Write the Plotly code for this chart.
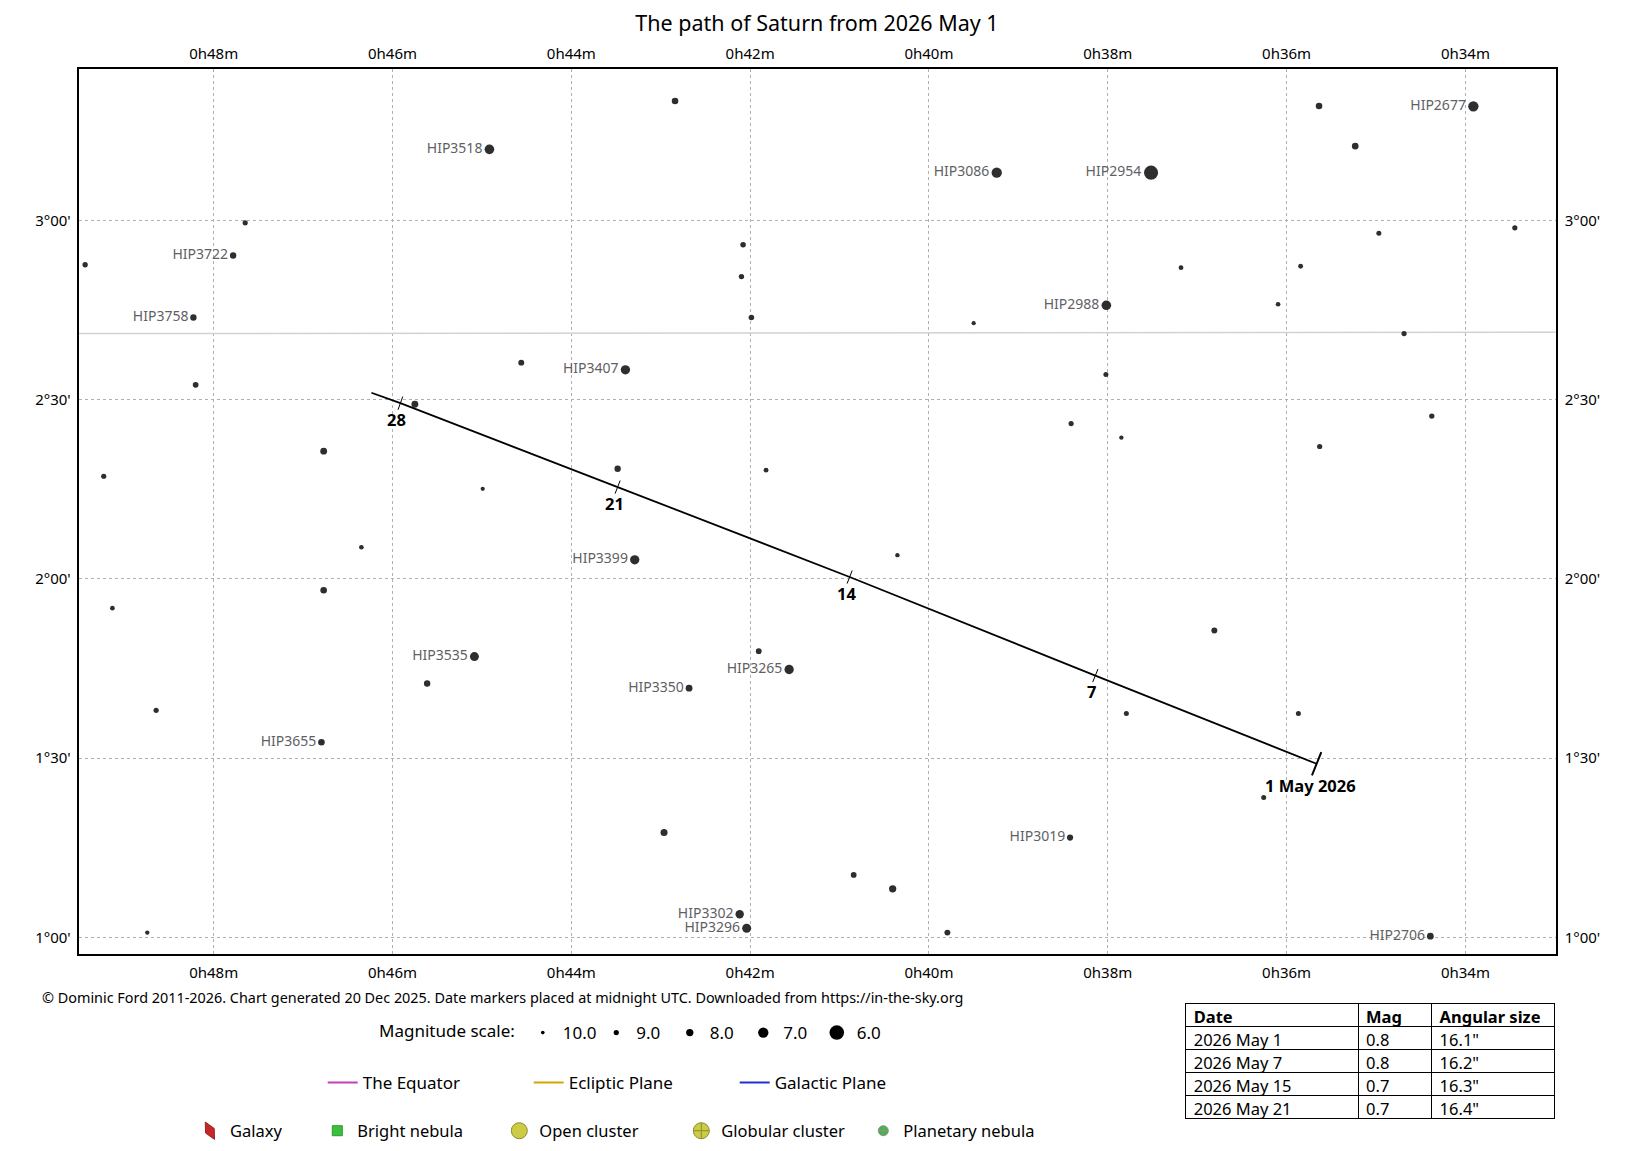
import numpy as np
import plotly.graph_objects as go

# field stars: RA in minutes of time after 0h, Dec in degrees, V magnitude
star_ra = [42.840, 44.916, 35.637, 33.911, 35.232, 39.242, 37.516, 47.648, 33.447, 34.968,
           47.783, 49.438, 42.079, 42.097, 37.181, 35.843, 38.016, 36.095, 48.227, 41.986,
           39.500, 34.686, 44.560, 43.395, 38.021, 48.202, 45.750, 34.376, 38.410, 37.848,
           35.630, 46.770, 43.482, 41.822, 49.230, 44.991, 46.348, 40.353, 43.291, 46.770,
           49.133, 36.808, 41.904, 45.084, 41.564, 45.613, 42.683, 48.644, 37.792, 35.868,
           46.795, 36.256, 42.963, 38.422, 40.842, 40.406, 42.117, 42.039, 48.743, 39.794,
           34.392]
star_dec = [3.333, 3.198, 3.319, 3.318, 3.207, 3.133, 3.133, 2.993, 2.979, 2.964,
            2.902, 2.876, 2.932, 2.843, 2.868, 2.872, 2.763, 2.766, 2.729, 2.729,
            2.713, 2.684, 2.603, 2.583, 2.570, 2.541, 2.487, 2.454, 2.433, 2.394,
            2.369, 2.356, 2.307, 2.303, 2.286, 2.251, 2.088, 2.066, 2.053, 1.968,
            1.918, 1.856, 1.798, 1.783, 1.747, 1.708, 1.695, 1.633, 1.624, 1.624,
            1.544, 1.390, 1.292, 1.278, 1.174, 1.135, 1.064, 1.025, 1.013, 1.013,
            1.003]
star_mag = [8.3, 7.2, 8.3, 7.0, 8.3, 7.0, 6.1, 9.0, 9.0, 9.1,
            8.4, 8.9, 8.8, 8.9, 9.2, 9.2, 7.2, 9.3, 8.4, 8.8,
            9.6, 9.0, 8.6, 7.3, 9.1, 8.7, 8.2, 8.9, 9.0, 9.5,
            9.0, 8.2, 8.4, 9.2, 9.0, 9.6, 9.3, 9.5, 7.3, 8.3,
            9.3, 8.6, 8.7, 7.4, 7.3, 8.4, 8.2, 9.0, 9.1, 9.1,
            8.3, 9.1, 8.1, 8.5, 8.7, 8.0, 7.6, 7.4, 9.5, 8.6,
            8.2]
star_name = ["", "HIP3518", "", "HIP2677", "", "HIP3086", "HIP2954", "", "", "",
             "HIP3722", "", "", "", "", "", "HIP2988", "", "HIP3758", "",
             "", "", "", "HIP3407", "", "", "", "", "", "",
             "", "", "", "", "", "", "", "", "HIP3399", "",
             "", "", "", "HIP3535", "HIP3265", "", "HIP3350", "", "", "",
             "HIP3655", "", "", "HIP3019", "", "", "HIP3302", "HIP3296", "", "",
             "HIP2706"]

# Saturn's path, May 2026
path_day = [1, 7, 14, 21, 28, 29]
path_ra = [35.664, 38.139, 40.887, 43.482, 45.912, 46.236]
path_dec = [1.484, 1.730, 2.005, 2.256, 2.490, 2.519]
path_label = ["1 May 2026", "7", "14", "21", "28", ""]

# constellation boundary (Pisces / Cetus)
boundary_ra = [49.51, 41.21, 32.99]
boundary_dec = [2.684, 2.6855, 2.688]

# ephemeris table
table_date = ["2026 May 1", "2026 May 7", "2026 May 15", "2026 May 21"]
table_mag = ["0.8", "0.8", "0.7", "0.7"]
table_size = ['16.1"', '16.2"', '16.3"', '16.4"']

mag_scale = [10.0, 9.0, 8.0, 7.0, 6.0]
plane_names = ["The Equator", "Ecliptic Plane", "Galactic Plane"]
plane_colors = ["#c040c0", "#d4a800", "#2030d0"]
object_names = ["Galaxy", "Bright nebula", "Open cluster", "Globular cluster", "Planetary nebula"]

ra_ticks = [48, 46, 44, 42, 40, 38, 36, 34]
ra_ticktext = ["0h%02dm" % m for m in ra_ticks]
dec_ticks = [1.0, 1.5, 2.0, 2.5, 3.0]
dec_ticktext = ["%d°%02d'" % (int(d), round((d - int(d)) * 60)) for d in dec_ticks]

x_range = [49.51, 32.99]
y_range = [0.9533, 3.4222]
W, H = 1633, 1151
PAGE = 8  # the html page body margin


def fx(px):
    return (px - PAGE) / W


def fy(py):
    return (H - (py - PAGE)) / H


x_dom = [fx(78.7), fx(1555.7)]
y_dom = [fy(954), fy(69)]
FONT = "Noto Sans"


def mag_size(m):
    return 14.6 * 10 ** (-0.15 * (np.asarray(m, dtype=float) - 6.0))


fig = go.Figure()

fig.add_trace(go.Scatter(x=boundary_ra, y=boundary_dec, mode="lines",
                         line=dict(color="#d2d2d2", width=1.5),
                         hoverinfo="skip", showlegend=False))

fig.add_trace(go.Scatter(x=star_ra, y=star_dec, mode="markers+text",
                         text=star_name, textposition="middle left",
                         textfont=dict(size=14, color="#5f5f66", family=FONT),
                         marker=dict(size=mag_size(star_mag), color="#2e2e2e", opacity=1,
                                     line=dict(width=0)),
                         showlegend=False))

# path drawn latest-first so each tick can be oriented against the previous point
rev_ra = path_ra[::-1]
rev_dec = path_dec[::-1]
rev_day = path_day[::-1]
tick_size = [0 if d == path_day[-1] else (18 if d == path_day[0] else 10) for d in rev_day]
tick_width = [0 if d == path_day[-1] else (2 if d == path_day[0] else 1) for d in rev_day]
fig.add_trace(go.Scatter(x=rev_ra, y=rev_dec, mode="lines+markers",
                         line=dict(color="black", width=1.8),
                         marker=dict(symbol="line-ns", size=tick_size, angleref="previous", angle=90,
                                     color="black", opacity=1,
                                     line=dict(color="black", width=tick_width)),
                         hoverinfo="skip", showlegend=False))

date_notes = []
for ra, dec, lab, day in zip(path_ra, path_dec, path_label, path_day):
    if not lab:
        continue
    first = day == path_day[0]
    date_notes.append(dict(x=ra, y=dec, xref="x", yref="y", text="<b>%s</b>" % lab,
                           showarrow=False, xanchor="center", yanchor="middle",
                           xshift=-6 if first else -3.4, yshift=-22 if first else -16,
                           font=dict(size=16.5, color="black", family=FONT)))

# invisible trace for the mirrored axes
fig.add_trace(go.Scatter(x=[None], y=[None], xaxis="x2", yaxis="y2",
                         showlegend=False, hoverinfo="skip"))

for m in mag_scale:
    fig.add_trace(go.Scatter(x=[None], y=[None], mode="markers", name="%.1f" % m,
                             marker=dict(size=float(mag_size(m)), color="black"),
                             legend="legend"))

for name, col in zip(plane_names, plane_colors):
    fig.add_trace(go.Scatter(x=[None], y=[None], mode="lines", name=name,
                             line=dict(color=col, width=2), legend="legend2"))

obj_style = [
    dict(symbol="diamond-tall", size=14, color="#c42828", angle=-28, line=dict(color="#a02020", width=1)),
    dict(symbol="square", size=10, color="#3cbf3c", line=dict(color="#2a9a2a", width=1)),
    dict(symbol="circle", size=16, color="#cccc44", line=dict(color="#8c8c30", width=1)),
    dict(symbol="circle-cross", size=16, color="#cccc44", line=dict(color="#8c8c30", width=1)),
    dict(symbol="circle-cross", size=10, color="#40b840", line=dict(color="#909090", width=1)),
]
obj_legend = ["legend3", "legend4", "legend4", "legend4", "legend4"]
for name, st, lg in zip(object_names, obj_style, obj_legend):
    fig.add_trace(go.Scatter(x=[None], y=[None], mode="markers", name=name,
                             marker=st, legend=lg))

fig.add_trace(go.Table(
    domain=dict(x=[fx(1185.7), fx(1555)], y=[0.0, fy(1003)]),
    columnwidth=[172.6, 73.7, 123.3],
    header=dict(values=["Date", "Mag", "Angular size"], align="left",
                line=dict(color="black", width=1), fill_color="white",
                font=dict(size=16.5, color="black", family=FONT, weight="bold"), height=23),
    cells=dict(values=[table_date, table_mag, table_size], align="left",
               line=dict(color="black", width=1), fill_color="white",
               font=dict(size=16.5, color="black", family=FONT), height=23),
))

tick_font = dict(size=15, color="black", family=FONT)
axis_common = dict(showgrid=True, gridcolor="#b0b0b0", griddash="dot", gridwidth=1,
                   zeroline=False, ticks="", tickfont=tick_font)

legend_common = dict(orientation="h", xanchor="left", yanchor="middle",
                     bgcolor="rgba(0,0,0,0)", itemsizing="trace")

fig.update_layout(
    width=W, height=H,
    margin=dict(l=0, r=0, t=0, b=0),
    paper_bgcolor="white", plot_bgcolor="white",
    font=dict(family=FONT, color="black"),
    title=dict(text="The path of Saturn from 2026 May 1", x=fx(817), xanchor="center",
               y=fy(23.5), yanchor="middle", yref="container",
               font=dict(size=21.5, color="black", family=FONT)),
    xaxis=dict(range=x_range, domain=x_dom, tickvals=ra_ticks, ticktext=ra_ticktext,
               showline=True, mirror=True, linecolor="black", linewidth=2,
               ticklabelstandoff=4, **axis_common),
    yaxis=dict(range=y_range, domain=y_dom, tickvals=dec_ticks, ticktext=dec_ticktext,
               showline=True, mirror=True, linecolor="black", linewidth=2,
               ticklabelstandoff=3, **axis_common),
    xaxis2=dict(range=x_range, overlaying="x", side="top", anchor="y", tickvals=ra_ticks,
                ticktext=ra_ticktext, showgrid=False, zeroline=False, ticks="",
                ticklabelstandoff=6, tickfont=tick_font),
    yaxis2=dict(range=y_range, overlaying="y", side="right", anchor="x", tickvals=dec_ticks,
                ticktext=dec_ticktext, showgrid=False, zeroline=False, ticks="",
                ticklabelstandoff=8, tickfont=tick_font),
    legend=dict(x=fx(377), y=fy(1033),
                title=dict(text="Magnitude scale:", side="left", font=dict(size=17)),
                font=dict(size=17), entrywidth=28.5, **legend_common),
    legend2=dict(x=fx(322.7), y=fy(1083), font=dict(size=17), entrywidth=161, **legend_common),
    legend3=dict(x=fx(189.9), y=fy(1131), font=dict(size=16.5), **legend_common),
    legend4=dict(x=fx(317.3), y=fy(1131), font=dict(size=16.5), entrywidth=137, **legend_common),
    annotations=date_notes + [
        dict(text="© Dominic Ford 2011-2026. Chart generated 20 Dec 2025. Date markers placed at midnight UTC. Downloaded from https://in-the-sky.org",
             x=fx(39.6), y=fy(997.8), xref="paper", yref="paper",
             xanchor="left", yanchor="middle", showarrow=False,
             font=dict(size=14.4, color="black", family=FONT))],
)

fig.write_html("out.html")
